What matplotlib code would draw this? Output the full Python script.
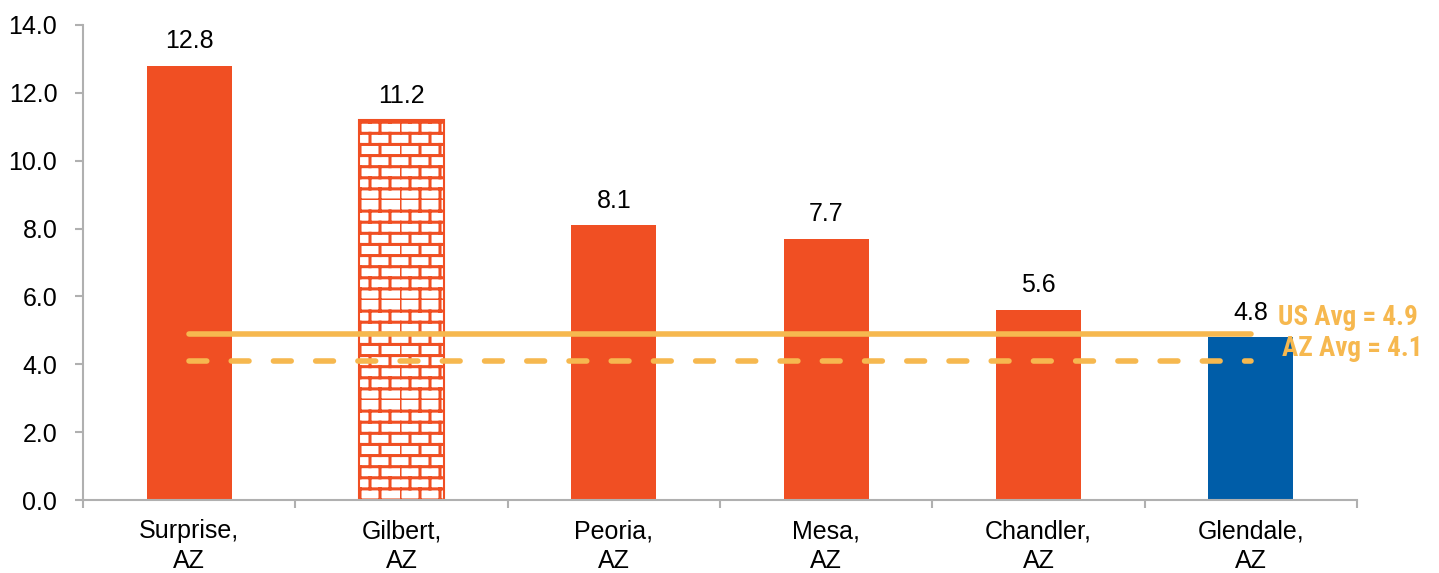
import numpy as np
import matplotlib
matplotlib.use("Agg")
import matplotlib.pyplot as plt
from matplotlib import hatch as mhatch
from matplotlib.path import Path

categories = ["Surprise,\nAZ", "Gilbert,\nAZ", "Peoria,\nAZ", "Mesa,\nAZ", "Chandler,\nAZ", "Glendale,\nAZ"]
values = [12.8, 11.2, 8.1, 7.7, 5.6, 4.8]
us_avg = 4.9
az_avg = 4.1
yticks = [0, 2, 4, 6, 8, 10, 12, 14]

ORANGE = "#F04F23"
BLUE = "#005DA8"
AVG = "#F6B84F"
GRAY = "#B0B0B0"


class BrickHatch(mhatch.HatchPatternBase):
    rows = 9
    cols = 5

    def __init__(self, hatch, density):
        if 'B' in hatch:
            self.num_vertices = self.rows * 2 + self.rows * self.cols * 2
        else:
            self.num_vertices = 0

    def set_vertices_and_codes(self, vertices, codes):
        i = 0
        for r in range(self.rows):
            y = r / self.rows
            vertices[i] = (0.0, y); codes[i] = Path.MOVETO; i += 1
            vertices[i] = (1.0, y); codes[i] = Path.LINETO; i += 1
        for r in range(self.rows):
            y0 = r / self.rows
            y1 = (r + 1) / self.rows
            off = 0.5 * (r % 2)
            for c in range(self.cols):
                x = ((c + off) % self.cols) / self.cols
                vertices[i] = (x, y0); codes[i] = Path.MOVETO; i += 1
                vertices[i] = (x, y1); codes[i] = Path.LINETO; i += 1


mhatch._hatch_types.append(BrickHatch)

plt.rcParams['font.family'] = ['Liberation Sans', 'DejaVu Sans']
plt.rcParams['hatch.linewidth'] = 2.2

fig = plt.figure(figsize=(14.39, 5.73), dpi=100)
ax = fig.add_axes([83 / 1439, 1 - 500 / 573, (1357 - 83) / 1439, 475 / 573])

x = np.arange(len(categories))
colors = [ORANGE, "white", ORANGE, ORANGE, ORANGE, BLUE]
bars = ax.bar(x, values, width=0.4, color=colors, zorder=2)
bars[1].set_hatch('B')
bars[1].set_edgecolor(ORANGE)
bars[1].set_linewidth(1.5)

for xi, v in zip(x, values):
    ax.annotate(f"{v:.1f}", (xi, v), xytext=(0, 9), textcoords="offset points",
                ha="center", va="bottom", fontsize=18, color="black")

ax.plot([x[0], x[-1]], [us_avg, us_avg], color=AVG, lw=4, solid_capstyle='round', zorder=3)
ax.plot([x[0], x[-1]], [az_avg, az_avg], color=AVG, lw=4, dashes=(3.2, 4.4),
        dash_capstyle='round', zorder=3)

fam = ['Roboto Condensed', 'Liberation Sans Narrow', 'Roboto', 'DejaVu Sans']
ax.text(5.13, 5.37, f"US Avg = {us_avg}", color=AVG, fontsize=19.5, fontweight='bold',
        ha='left', va='center', family=fam)
ax.text(5.145, 4.48, f"AZ Avg = {az_avg}", color=AVG, fontsize=19.5, fontweight='bold',
        ha='left', va='center', family=fam)

ax.set_xlim(-0.5, 5.5)
ax.set_ylim(0, 14)
ax.set_yticks(yticks)
ax.set_yticklabels([f"{t:.1f}" for t in yticks], fontsize=18)
ax.set_xticks(x)
ax.set_xticklabels(categories, fontsize=18, linespacing=1.3)
ax.set_xticks(np.arange(-0.5, 6.0, 1.0), minor=True)
ax.tick_params(axis='x', which='major', length=0, pad=14)
ax.tick_params(axis='x', which='minor', length=5.5, color=GRAY, width=1.5)
ax.tick_params(axis='y', length=5.5, color=GRAY, width=1.5, pad=13)

for s in ['top', 'right']:
    ax.spines[s].set_visible(False)
for s in ['left', 'bottom']:
    ax.spines[s].set_color(GRAY)
    ax.spines[s].set_linewidth(1.5)

fig.savefig("out.png", dpi=100)
